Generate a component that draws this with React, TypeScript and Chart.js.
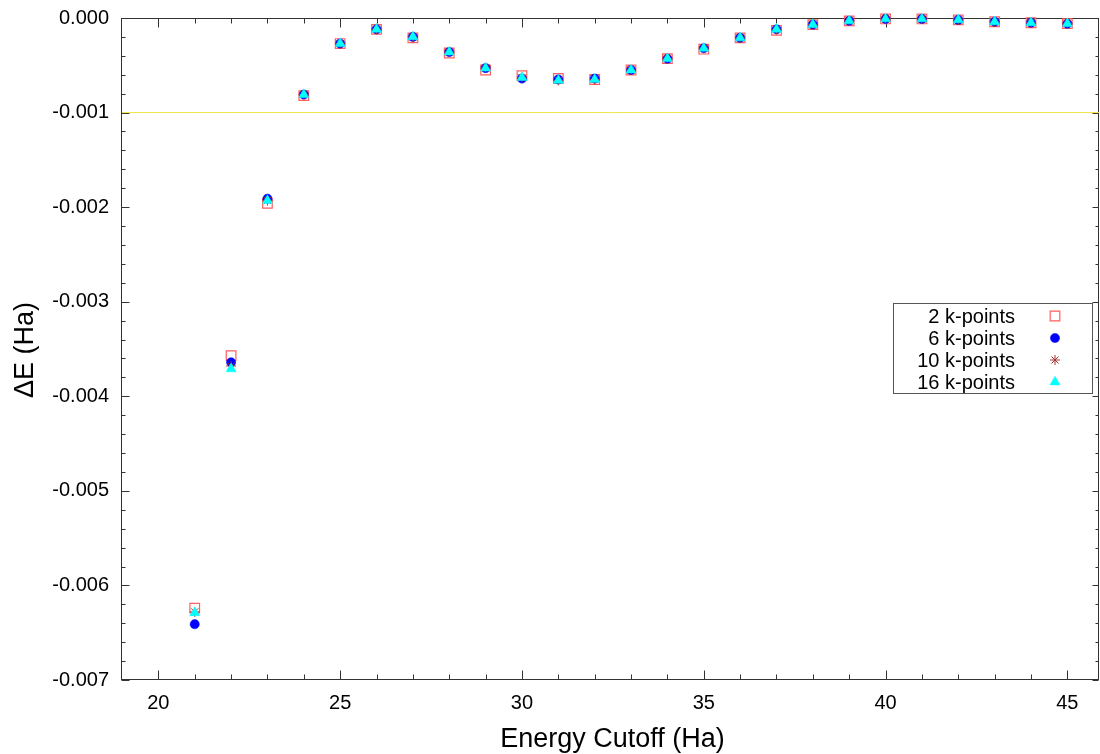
import React, { useEffect, useRef } from 'react';
import { Chart, registerables } from 'chart.js';

Chart.register(...registerables);

// ---------- data ----------
const cutoffs = [21, 22, 23, 24, 25, 26, 27, 28, 29, 30, 31, 32, 33, 34, 35, 36, 37, 38, 39, 40, 41, 42, 43, 44, 45];

const kp2 = [-0.00624, -0.00357, -0.00196, -0.00082, -0.00027, -0.00012, -0.00021, -0.00037, -0.00055, -0.00061, -0.00064, -0.00065, -0.00055, -0.00043, -0.00033, -0.00021, -0.00013, -0.00007, -0.00003, -0.00001, -0.00001, -0.00002, -0.00004, -0.00005, -0.00006];
const kp6 = [-0.00641, -0.00364, -0.00191, -0.00081, -0.00027, -0.00012, -0.0002, -0.00036, -0.00053, -0.00064, -0.00065, -0.00064, -0.00055, -0.00043, -0.00032, -0.00021, -0.00012, -0.00007, -0.00003, -0.00001, -0.00001, -0.00002, -0.00004, -0.00005, -0.00006];
const kp10 = [-0.00628, -0.00368, -0.00193, -0.00081, -0.00027, -0.00012, -0.0002, -0.00036, -0.00053, -0.00063, -0.00066, -0.00065, -0.00055, -0.00043, -0.00032, -0.00021, -0.00012, -0.00007, -0.00003, -0.00001, -0.00001, -0.00002, -0.00004, -0.00005, -0.00006];
const kp16 = [-0.00629, -0.00371, -0.00193, -0.00081, -0.00027, -0.00012, -0.0002, -0.00036, -0.00053, -0.00063, -0.00066, -0.00065, -0.00055, -0.00043, -0.00032, -0.00021, -0.00012, -0.00007, -0.00003, -0.00001, -0.00001, -0.00002, -0.00004, -0.00005, -0.00006];

const seriesLabels = ['2 k-points', '6 k-points', '10 k-points', '16 k-points'];
const xTickValues = [20, 25, 30, 35, 40, 45];
const yTickValues = [0, -0.001, -0.002, -0.003, -0.004, -0.005, -0.006, -0.007];
const thresholdValue = -0.001;
const xRange = [19, 45.87];
const yRange = [-0.007, 0];
const xTitle = 'Energy Cutoff (Ha)';
const yTitle = 'ΔE (Ha)';

// ---------- styles ----------
const FONT = '"Liberation Sans", Arial, sans-serif';
const AXIS = '#333333';
const markerStyles = [
  { pointStyle: 'rect', radius: 6.8, fill: 'rgba(0,0,0,0)', stroke: 'rgb(255,95,95)', bw: 1.2 },
  { pointStyle: 'circle', radius: 4.6, fill: '#0000ff', stroke: '#0000ff', bw: 0.5 },
  { pointStyle: 'star', radius: 5, fill: '#a83232', stroke: '#a83232', bw: 1 },
  { pointStyle: 'triangle', radius: 5.8, fill: '#00ffff', stroke: '#00ffff', bw: 0.5 },
];
const seriesValues = [kp2, kp6, kp10, kp16];

function drawMarker(ctx: CanvasRenderingContext2D, style: string, x: number, y: number, r: number, fill: string, stroke: string, bw: number) {
  ctx.save();
  ctx.fillStyle = fill;
  ctx.strokeStyle = stroke;
  ctx.lineWidth = bw;
  ctx.beginPath();
  if (style === 'circle') {
    ctx.arc(x, y, r, 0, Math.PI * 2);
    ctx.fill();
    ctx.stroke();
  } else if (style === 'rect') {
    const s = Math.SQRT1_2 * r;
    ctx.rect(x - s, y - s, 2 * s, 2 * s);
    ctx.fill();
    ctx.stroke();
  } else if (style === 'triangle') {
    ctx.moveTo(x, y - r);
    ctx.lineTo(x + Math.sin(Math.PI * 2 / 3) * r, y + 0.5 * r);
    ctx.lineTo(x - Math.sin(Math.PI * 2 / 3) * r, y + 0.5 * r);
    ctx.closePath();
    ctx.fill();
    ctx.stroke();
  } else if (style === 'star') {
    ctx.moveTo(x, y - r); ctx.lineTo(x, y + r);
    ctx.moveTo(x - r, y); ctx.lineTo(x + r, y);
    const d = r * Math.SQRT1_2;
    ctx.moveTo(x - d, y - d); ctx.lineTo(x + d, y + d);
    ctx.moveTo(x - d, y + d); ctx.lineTo(x + d, y - d);
    ctx.stroke();
  }
  ctx.restore();
}

const zeroPadding = (scale: any) => {
  scale.paddingTop = 0;
  scale.paddingBottom = 0;
  scale.paddingLeft = 0;
  scale.paddingRight = 0;
};

const decorPlugin = {
  id: 'decor',
  beforeDatasetsDraw(chart: any) {
    const { ctx, chartArea: a, scales } = chart;
    const xs = scales.x;
    const ys = scales.y;
    const L = Math.round(a.left) - 0.5;
    const R = Math.round(a.right) - 0.5;
    const T = Math.round(a.top) + 0.5;
    const B = Math.round(a.bottom) - 0.5;
    ctx.save();
    ctx.strokeStyle = AXIS;
    ctx.lineWidth = 1;
    ctx.beginPath();
    for (let v = 20; v <= 45; v++) {
      const px = Math.round(xs.getPixelForValue(v)) + 0.5;
      const len = v % 5 === 0 ? 9 : 5;
      ctx.moveTo(px, B); ctx.lineTo(px, B - len);
      ctx.moveTo(px, T); ctx.lineTo(px, T + len);
    }
    for (let i = 0; i <= 35; i++) {
      const v = -i * 0.0002;
      const py = Math.round(ys.getPixelForValue(v)) + 0.5;
      const major = i % 5 === 0;
      ctx.moveTo(L, py); ctx.lineTo(L + (major ? 8 : 4), py);
      ctx.moveTo(R, py); ctx.lineTo(R - (major ? 6 : 3), py);
    }
    ctx.stroke();
    ctx.strokeRect(L, T, R - L, B - T);
    ctx.restore();
  },
  afterDraw(chart: any) {
    const { ctx, chartArea: a } = chart;
    ctx.save();
    ctx.fillStyle = '#000';
    ctx.font = `27px ${FONT}`;
    ctx.textAlign = 'center';
    ctx.textBaseline = 'alphabetic';
    ctx.fillText(xTitle, (a.left + a.right) / 2 + 2, 747);
    ctx.save();
    ctx.translate(33, (a.top + a.bottom) / 2 + 1);
    ctx.rotate(-Math.PI / 2);
    ctx.fillText(yTitle, 0, 0);
    ctx.restore();

    // legend
    const bx = 893.5, by = 303.5, bwid = 199, bh = 90;
    ctx.fillStyle = '#ffffff';
    ctx.fillRect(bx, by, bwid, bh);
    ctx.strokeStyle = '#555555';
    ctx.lineWidth = 1;
    ctx.strokeRect(bx, by, bwid, bh);
    const rowsY = [316, 338, 360, 382];
    ctx.font = `20px ${FONT}`;
    ctx.textAlign = 'right';
    ctx.textBaseline = 'middle';
    seriesLabels.forEach((lab, i) => {
      ctx.fillStyle = '#000';
      ctx.fillText(lab, 1015, rowsY[i] + 1);
      const m = markerStyles[i];
      drawMarker(ctx, m.pointStyle, 1055, rowsY[i], m.radius, m.fill, m.stroke, m.bw);
    });
    ctx.restore();
  },
};

export default function App() {
  const canvasRef = useRef<HTMLCanvasElement | null>(null);

  useEffect(() => {
    document.body.style.margin = '0';
    const canvas = canvasRef.current;
    if (!canvas) return;

    const pointSets = seriesValues.map((vals, i) => ({
      type: 'scatter' as const,
      label: seriesLabels[i],
      data: cutoffs.map((c, j) => ({ x: c, y: vals[j] })),
      pointStyle: markerStyles[i].pointStyle,
      pointRadius: markerStyles[i].radius,
      pointBackgroundColor: markerStyles[i].fill,
      pointBorderColor: markerStyles[i].stroke,
      pointBorderWidth: markerStyles[i].bw,
      showLine: false,
      clip: false as any,
      order: 4 - i,
    }));

    const chart = new Chart(canvas, {
      type: 'scatter',
      data: {
        datasets: [
          {
            type: 'line' as const,
            label: 'threshold',
            data: [
              { x: xRange[0], y: thresholdValue },
              { x: xRange[1], y: thresholdValue },
            ],
            borderColor: 'rgb(242,228,70)',
            borderWidth: 1,
            pointRadius: 0,
            order: 10,
          } as any,
          ...pointSets,
        ],
      },
      options: {
        animation: false,
        responsive: true,
        maintainAspectRatio: false,
        layout: { autoPadding: false, padding: { left: 0, right: 1, top: 18, bottom: 0 } } as any,
        plugins: {
          legend: { display: false },
          tooltip: { enabled: false },
          title: { display: false },
        },
        scales: {
          x: {
            type: 'linear',
            min: xRange[0],
            max: xRange[1],
            afterBuildTicks: (scale: any) => {
              scale.ticks = xTickValues.map((v) => ({ value: v }));
            },
            afterFit: (scale: any) => {
              scale.height = 74;
              zeroPadding(scale);
            },
            grid: { display: false, drawTicks: false },
            border: { display: false },
            ticks: {
              padding: 11,
              color: '#000',
              font: { family: FONT, size: 20 },
              maxRotation: 0,
              callback: (v: any) => String(v),
            },
          },
          y: {
            type: 'linear',
            min: yRange[0],
            max: yRange[1],
            afterBuildTicks: (scale: any) => {
              scale.ticks = yTickValues.map((v) => ({ value: v }));
            },
            afterFit: (scale: any) => {
              scale.width = 122;
              zeroPadding(scale);
            },
            grid: { display: false, drawTicks: false },
            border: { display: false },
            ticks: {
              padding: 13,
              color: '#000',
              font: { family: FONT, size: 20 },
              callback: (v: any) => (Math.abs(v) < 1e-12 ? '0.000' : Number(v).toFixed(3)),
            },
          },
        },
      },
      plugins: [decorPlugin],
    });

    return () => chart.destroy();
  }, []);

  return (
    <div style={{ position: 'absolute', left: 0, top: 0, width: 1100, height: 754, background: '#fff' }}>
      <canvas ref={canvasRef} />
    </div>
  );
}
